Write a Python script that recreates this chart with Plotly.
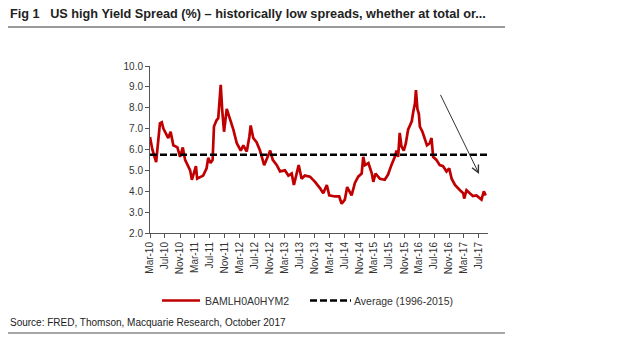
import plotly.graph_objects as go

# US high yield option-adjusted spread (ICE BofAML, FRED: BAMLH0A0HYM2), %
dates = [
    "2010-03-01", "2010-03-20", "2010-04-20", "2010-05-21", "2010-06-05", "2010-06-18",
    "2010-07-28", "2010-08-16", "2010-09-07", "2010-10-10", "2010-11-01", "2010-11-23",
    "2010-12-12", "2011-01-22", "2011-02-05", "2011-03-10", "2011-03-20", "2011-05-08",
    "2011-06-05", "2011-06-18", "2011-07-07", "2011-07-24", "2011-08-04", "2011-08-25",
    "2011-09-08", "2011-09-28", "2011-10-10", "2011-10-25", "2011-11-16", "2011-12-07",
    "2012-01-09", "2012-02-06", "2012-03-09", "2012-03-30", "2012-04-27", "2012-05-18",
    "2012-05-29", "2012-06-19", "2012-07-16", "2012-08-13", "2012-09-04", "2012-09-16",
    "2012-10-07", "2012-11-04", "2012-11-25", "2012-12-28", "2013-01-23", "2013-03-04",
    "2013-04-01", "2013-04-28", "2013-05-16", "2013-06-07", "2013-06-24", "2013-07-18",
    "2013-08-13", "2013-09-24", "2013-11-04", "2013-12-14", "2014-01-10", "2014-02-08",
    "2014-02-28", "2014-04-16", "2014-05-20", "2014-06-09", "2014-07-05", "2014-07-24",
    "2014-08-29", "2014-09-25", "2014-10-22", "2014-11-19", "2014-12-02", "2014-12-16",
    "2015-01-13", "2015-02-10", "2015-02-22", "2015-03-12", "2015-04-16", "2015-05-26",
    "2015-06-22", "2015-07-19", "2015-08-16", "2015-08-30", "2015-09-12", "2015-09-25",
    "2015-10-09", "2015-10-28", "2015-11-14", "2015-12-02", "2015-12-16", "2016-01-01",
    "2016-01-13", "2016-01-27", "2016-02-04", "2016-02-16", "2016-02-28", "2016-03-07",
    "2016-03-28", "2016-04-16", "2016-05-04", "2016-05-27", "2016-06-10", "2016-06-23",
    "2016-07-20", "2016-08-16", "2016-09-12", "2016-10-10", "2016-11-01", "2016-11-21",
    "2016-12-18", "2017-01-28", "2017-02-24", "2017-03-03", "2017-03-22", "2017-04-18",
    "2017-05-13", "2017-06-11", "2017-07-07", "2017-07-22", "2017-08-10", "2017-08-25",
]
spread = [
    6.60, 6.00, 5.40, 7.25, 7.30, 7.00,
    6.55, 6.85, 6.20, 6.10, 5.65, 6.10,
    5.50, 5.00, 4.55, 5.20, 4.60, 4.75,
    5.10, 5.60, 5.35, 5.50, 7.10, 7.40,
    7.50, 9.10, 7.90, 6.85, 7.95, 7.60,
    6.95, 6.30, 5.95, 6.20, 5.90, 6.60,
    7.15, 6.55, 6.35, 5.95, 5.55, 5.25,
    5.55, 5.95, 5.50, 5.25, 4.95, 5.00,
    4.75, 4.85, 4.30, 4.85, 5.25, 4.60,
    4.75, 4.70, 4.45, 4.15, 3.90, 4.30,
    3.80, 3.75, 3.75, 3.40, 3.60, 4.20,
    3.80, 4.40, 4.70, 4.85, 5.65, 5.25,
    5.35, 4.85, 4.45, 4.85, 4.60, 4.55,
    4.80, 5.25, 5.65, 5.95, 5.65, 6.80,
    6.15, 5.95, 6.30, 6.95, 7.15, 7.35,
    7.80, 8.20, 8.85, 7.95, 7.70, 7.10,
    6.85, 6.45, 6.20, 6.30, 6.55, 5.65,
    5.50, 5.25, 5.20, 4.95, 5.10, 4.60,
    4.30, 4.05, 3.90, 3.65, 4.05, 3.90,
    3.77, 3.80, 3.70, 3.60, 4.00, 3.80,
]

# long-run average spread 1996-2015
avg_value = 5.75
avg_span = ["2010-03-01", "2017-09-10"]

tick_dates = [
    "2010-03-01", "2010-07-01", "2010-11-01", "2011-03-01", "2011-07-01", "2011-11-01",
    "2012-03-01", "2012-07-01", "2012-11-01", "2013-03-01", "2013-07-01", "2013-11-01",
    "2014-03-01", "2014-07-01", "2014-11-01", "2015-03-01", "2015-07-01", "2015-11-01",
    "2016-03-01", "2016-07-01", "2016-11-01", "2017-03-01", "2017-07-01",
]
tick_labels = [
    "Mar-10", "Jul-10", "Nov-10", "Mar-11", "Jul-11", "Nov-11",
    "Mar-12", "Jul-12", "Nov-12", "Mar-13", "Jul-13", "Nov-13",
    "Mar-14", "Jul-14", "Nov-14", "Mar-15", "Jul-15", "Nov-15",
    "Mar-16", "Jul-16", "Nov-16", "Mar-17", "Jul-17",
]

# trend arrow (start -> end)
arrow_from = ("2016-08-16", 8.69)
arrow_to = ("2017-07-02", 4.83)

FONT = "Liberation Sans, Arial, sans-serif"
RED = "#C00000"

fig = go.Figure()
fig.add_trace(go.Scatter(
    x=dates, y=spread, mode="lines", name="BAMLH0A0HYM2",
    line=dict(color=RED, width=2.7), showlegend=False,
))
fig.add_trace(go.Scatter(
    x=avg_span, y=[avg_value, avg_value], mode="lines", name="Average (1996-2015)",
    line=dict(color="#000000", width=2.5, dash="7px,3px"), showlegend=False,
))

# plot area geometry in pixels (used to place paper-referenced extras)
L, R, T, B = 150, 488, 66, 233
W, H = R - L, B - T


def px(x):
    return (x - L) / W


def py(y):
    return (B - y) / H


annotations = [
    dict(text="<b>Fig 1   US high Yield Spread (%) – historically low spreads, whether at total or...</b>",
         x=px(8), y=py(14), xref="paper", yref="paper", xanchor="left", yanchor="middle",
         showarrow=False, font=dict(family=FONT, size=12.7, color="#222")),
    dict(text="Source: FRED, Thomson, Macquarie Research, October 2017",
         x=px(8), y=py(322.5), xref="paper", yref="paper", xanchor="left", yanchor="middle",
         showarrow=False, font=dict(family=FONT, size=10, color="#222")),
    dict(text="BAMLH0A0HYM2",
         x=px(203), y=py(300.5), xref="paper", yref="paper", xanchor="left", yanchor="middle",
         showarrow=False, font=dict(family=FONT, size=10.5, color="#333")),
    dict(text="Average (1996-2015)",
         x=px(352), y=py(300.5), xref="paper", yref="paper", xanchor="left", yanchor="middle",
         showarrow=False, font=dict(family=FONT, size=10.5, color="#333")),
    dict(x=arrow_to[0], y=arrow_to[1], ax=arrow_from[0], ay=arrow_from[1],
         xref="x", yref="y", axref="x", ayref="y", text="", showarrow=True,
         arrowhead=5, arrowsize=1.4, arrowwidth=1, arrowcolor="#333"),
]

shapes = [
    # rule under the title
    dict(type="line", xref="paper", yref="paper", x0=px(8), x1=px(505), y0=py(27), y1=py(27),
         line=dict(color="#9a9a9a", width=2)),
    # rule under the source line
    dict(type="line", xref="paper", yref="paper", x0=px(8), x1=px(505), y0=py(333), y1=py(333),
         line=dict(color="#8a8a8a", width=1.5)),
    # legend samples
    dict(type="line", xref="paper", yref="paper", x0=px(162), x1=px(200), y0=py(300.5), y1=py(300.5),
         line=dict(color=RED, width=2.5)),
    dict(type="line", xref="paper", yref="paper", x0=px(310), x1=px(351), y0=py(300.5), y1=py(300.5),
         line=dict(color="#000", width=2.5, dash="7px,3px")),
]

fig.update_layout(
    width=620, height=348,
    margin=dict(l=L, r=620 - R, t=T, b=348 - B),
    paper_bgcolor="white", plot_bgcolor="white",
    font=dict(family=FONT, size=10, color="#333"),
    annotations=annotations, shapes=shapes,
    showlegend=False,
)
fig.update_xaxes(
    range=["2010-03-01", "2017-09-13"],
    tickmode="array", tickvals=tick_dates, ticktext=tick_labels, tickangle=-90,
    ticks="outside", ticklen=4, tickcolor="#555", showline=True, linecolor="#555",
    linewidth=1, showgrid=False, zeroline=False, tickfont=dict(size=10, color="#333"),
)
fig.update_yaxes(
    range=[2, 10], dtick=1, tickformat=".1f",
    ticks="outside", ticklen=4, tickcolor="#555", showline=True, linecolor="#555",
    linewidth=1, showgrid=False, zeroline=False, tickfont=dict(size=10, color="#333"),
)

fig.write_html("out.html")
